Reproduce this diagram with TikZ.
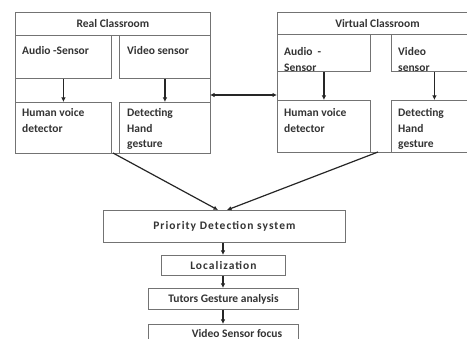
\documentclass[tikz,border=0pt]{standalone}
\usepackage{fontspec}
\setmainfont{Carlito}
\usetikzlibrary{arrows.meta,calc}
\begin{document}
\begin{tikzpicture}[x=1pt,y=-1pt,
  box/.style={draw=black!55,line width=0.9pt,anchor=north west,inner sep=0pt},
  txt/.style={text=black!80,font=\fontsize{11.5}{15.5}\selectfont\bfseries,inner sep=0pt},
  wide/.style={font=\fontsize{11.5}{15.5}\selectfont\bfseries\addfontfeature{LetterSpace=9}},
  tl/.style={txt,anchor=north west,align=left},
  arr/.style={draw=black!85,line width=1.2pt,-{Latex[length=4.5pt,width=4.5pt]}}]
\useasboundingbox (0,0) rectangle (467,339);
\clip (0,0) rectangle (467,339);
% left group
\node[box,minimum width=195pt,minimum height=141pt] (lg) at (15,12) {};
\node[box,minimum width=195pt,minimum height=23pt] (lt) at (15,12) {};
\node[txt] (ltt) at (lt.center) {Real Classroom};
\node[box,minimum width=96pt,minimum height=43pt] (la) at (15,35) {};
\node[box,minimum width=91pt,minimum height=43pt] (lv) at (119,35) {};
\node[box,minimum width=96pt,minimum height=51pt] (lh) at (15,102) {};
\node[box,minimum width=91pt,minimum height=51pt] (ld) at (119,102) {};
\node[tl] (lat) at (22,46.5) {Audio -Sensor};
\node[tl] (lvt) at (127,46.5) {Video sensor};
\node[tl] (lht) at (22,108.5) {Human voice\\detector};
\node[tl] (ldt) at (127,108.5) {Detecting\\Hand\\gesture};
% right group
\node[box,minimum width=200pt,minimum height=140pt] (rg) at (277,12) {};
\node[box,minimum width=200pt,minimum height=22pt] (rt) at (277,12) {};
\node[txt] (rtt) at (rt.center) {Virtual Classroom};
\node[box,minimum width=93pt,minimum height=37pt] (ra) at (277,34) {};
\node[box,minimum width=86pt,minimum height=37pt] (rv) at (391,34) {};
\node[box,minimum width=93pt,minimum height=52pt] (rh) at (277,100) {};
\node[box,minimum width=86pt,minimum height=52pt] (rd) at (391,100) {};
\begin{scope}
\clip (277,34) rectangle (370,70.5);
\node[tl] (rat) at (284,47.5) {Audio \ -\\Sensor};
\end{scope}
\begin{scope}
\clip (391,34) rectangle (477,70.5);
\node[tl] (rvt) at (398,47.5) {Video\\sensor};
\end{scope}
\node[tl] (rht) at (284,108.5) {Human voice\\detector};
\node[tl] (rdt) at (398,108.5) {Detecting\\Hand\\gesture};
% lower chain
\node[box,minimum width=242pt,minimum height=32pt] (pd) at (103,210) {};
\node[txt,wide] (pdt) at (pd.center) {Priority Detection system};
\node[box,minimum width=124pt,minimum height=20pt] (loc) at (161,255) {};
\node[txt,wide] (loct) at (loc.center) {Localization};
\node[box,minimum width=150pt,minimum height=21pt] (tg) at (148,288) {};
\node[txt] (tgt) at (tg.center) {Tutors Gesture analysis};
\node[box,minimum width=150pt,minimum height=26pt] (vs) at (148,324) {};
\node[txt] (vst) at (237,333.5) {Video Sensor focus};
% connectors
\draw[arr] (la.south) -- (lh.north);
\draw[arr] (lv.south) -- (ld.north);
\draw[arr] (ra.south) -- (rh.north);
\draw[arr] (rv.south) -- (rd.north);
\coordinate (d1) at (210,95);
\coordinate (d2) at (277,95);
\draw[arr,{Latex[length=4.5pt,width=4.5pt]}-{Latex[length=4.5pt,width=4.5pt]}] (d1) -- (d2);
\coordinate (s1) at (113,153);
\coordinate (s2) at (378,152);
\coordinate (e1) at (218,210);
\coordinate (e2) at (227,210);
\draw[arr] (s1) -- (e1);
\draw[arr] (s2) -- (e2);
\draw[arr] (pd.south -| 223,0) -- (loc.north -| 223,0);
\draw[arr] (loc.south -| 223,0) -- (tg.north -| 223,0);
\draw[arr] (tg.south -| 223,0) -- (vs.north -| 223,0);
\end{tikzpicture}
\end{document}
